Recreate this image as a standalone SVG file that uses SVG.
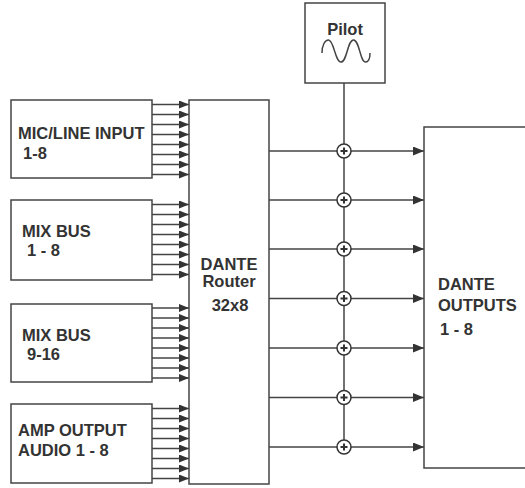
<svg xmlns="http://www.w3.org/2000/svg" width="525" height="488" viewBox="0 0 525 488">
<defs>
<style>
.box{fill:#fff;stroke:#444;stroke-width:1.5}
.ln{stroke:#444;stroke-width:1.5;fill:none}
.t{font-family:"Liberation Sans",Arial,sans-serif;font-weight:bold;font-size:16.5px;fill:#333}
.sum{fill:#fff;stroke:#333;stroke-width:1.5}
</style>
<marker id="ah" markerUnits="userSpaceOnUse" markerWidth="10" markerHeight="8" refX="10" refY="4" orient="auto">
<path d="M0,0 L10,4 L0,8 z" fill="#333"/>
</marker>
<marker id="ao" markerUnits="userSpaceOnUse" markerWidth="11" markerHeight="9" refX="11" refY="4.5" orient="auto">
<path d="M0,0 L11,4.5 L0,9 z" fill="#333"/>
</marker>
<g id="sumsym">
<circle r="7" class="sum"/>
<path d="M-3.5,0 H3.5 M0,-3.5 V3.5" stroke="#333" stroke-width="2"/>
</g>
</defs>
<rect width="525" height="488" fill="#fff"/>

<g id="connectors">
<g class="ln">
<line x1="152" y1="104.5" x2="189" y2="104.5" marker-end="url(#ah)"/>
<line x1="152" y1="114.5" x2="189" y2="114.5" marker-end="url(#ah)"/>
<line x1="152" y1="124.5" x2="189" y2="124.5" marker-end="url(#ah)"/>
<line x1="152" y1="134.5" x2="189" y2="134.5" marker-end="url(#ah)"/>
<line x1="152" y1="144.5" x2="189" y2="144.5" marker-end="url(#ah)"/>
<line x1="152" y1="154.5" x2="189" y2="154.5" marker-end="url(#ah)"/>
<line x1="152" y1="164.5" x2="189" y2="164.5" marker-end="url(#ah)"/>
<line x1="152" y1="174.5" x2="189" y2="174.5" marker-end="url(#ah)"/>

<line x1="152" y1="204.5" x2="189" y2="204.5" marker-end="url(#ah)"/>
<line x1="152" y1="214.5" x2="189" y2="214.5" marker-end="url(#ah)"/>
<line x1="152" y1="224.5" x2="189" y2="224.5" marker-end="url(#ah)"/>
<line x1="152" y1="234.5" x2="189" y2="234.5" marker-end="url(#ah)"/>
<line x1="152" y1="244.5" x2="189" y2="244.5" marker-end="url(#ah)"/>
<line x1="152" y1="254.5" x2="189" y2="254.5" marker-end="url(#ah)"/>
<line x1="152" y1="264.5" x2="189" y2="264.5" marker-end="url(#ah)"/>
<line x1="152" y1="274.5" x2="189" y2="274.5" marker-end="url(#ah)"/>

<line x1="152" y1="308" x2="189" y2="308" marker-end="url(#ah)"/>
<line x1="152" y1="318" x2="189" y2="318" marker-end="url(#ah)"/>
<line x1="152" y1="328" x2="189" y2="328" marker-end="url(#ah)"/>
<line x1="152" y1="338" x2="189" y2="338" marker-end="url(#ah)"/>
<line x1="152" y1="348" x2="189" y2="348" marker-end="url(#ah)"/>
<line x1="152" y1="358" x2="189" y2="358" marker-end="url(#ah)"/>
<line x1="152" y1="368" x2="189" y2="368" marker-end="url(#ah)"/>
<line x1="152" y1="378" x2="189" y2="378" marker-end="url(#ah)"/>

<line x1="152" y1="408.5" x2="189" y2="408.5" marker-end="url(#ah)"/>
<line x1="152" y1="418.5" x2="189" y2="418.5" marker-end="url(#ah)"/>
<line x1="152" y1="428.5" x2="189" y2="428.5" marker-end="url(#ah)"/>
<line x1="152" y1="438.5" x2="189" y2="438.5" marker-end="url(#ah)"/>
<line x1="152" y1="448.5" x2="189" y2="448.5" marker-end="url(#ah)"/>
<line x1="152" y1="458.5" x2="189" y2="458.5" marker-end="url(#ah)"/>
<line x1="152" y1="468.5" x2="189" y2="468.5" marker-end="url(#ah)"/>
<line x1="152" y1="478.5" x2="189" y2="478.5" marker-end="url(#ah)"/>

<line x1="269" y1="151" x2="424" y2="151" marker-end="url(#ao)"/>
<line x1="269" y1="200" x2="424" y2="200" marker-end="url(#ao)"/>
<line x1="269" y1="249" x2="424" y2="249" marker-end="url(#ao)"/>
<line x1="269" y1="298.5" x2="424" y2="298.5" marker-end="url(#ao)"/>
<line x1="269" y1="348" x2="424" y2="348" marker-end="url(#ao)"/>
<line x1="269" y1="397.5" x2="424" y2="397.5" marker-end="url(#ao)"/>
<line x1="269" y1="447" x2="424" y2="447" marker-end="url(#ao)"/>

<line x1="344" y1="83" x2="344" y2="447"/>
</g>
<use href="#sumsym" x="344" y="151"/>
<use href="#sumsym" x="344" y="200"/>
<use href="#sumsym" x="344" y="249"/>
<use href="#sumsym" x="344" y="298.5"/>
<use href="#sumsym" x="344" y="348"/>
<use href="#sumsym" x="344" y="397.5"/>
<use href="#sumsym" x="344" y="447"/>
</g>

<g id="mic">
<rect x="11" y="100" width="141" height="78" class="box"/>
<text class="t" x="18" y="139">MIC/LINE INPUT</text>
<text class="t" x="23" y="159">1-8</text>
</g>
<g id="mix1">
<rect x="11" y="200" width="141" height="80" class="box"/>
<text class="t" x="22" y="237">MIX BUS</text>
<text class="t" x="27" y="256">1 - 8</text>
</g>
<g id="mix2">
<rect x="11" y="304" width="141" height="78" class="box"/>
<text class="t" x="22" y="341">MIX BUS</text>
<text class="t" x="27" y="360">9-16</text>
</g>
<g id="amp">
<rect x="11" y="404" width="141" height="79" class="box"/>
<text class="t" x="18" y="436">AMP OUTPUT</text>
<text class="t" x="18" y="456">AUDIO 1 - 8</text>
</g>
<g id="router">
<rect x="189" y="100" width="80" height="384" class="box"/>
<text class="t" x="229" y="270" text-anchor="middle">DANTE</text>
<text class="t" x="229" y="287" text-anchor="middle">Router</text>
<text class="t" x="230" y="311" text-anchor="middle">32x8</text>
</g>
<g id="pilot">
<rect x="305" y="3" width="80" height="80" class="box"/>
<text class="t" x="345" y="35" text-anchor="middle">Pilot</text>
<path class="ln" d="M322,53 C322,45 325,40 328.5,40 C334,40 335,62 341,62 C347,62 347.5,40 353.5,40 C359.5,40 360,62 365.5,62 C368.5,62 370,58 370,53"/>
</g>
<g id="outputs">
<rect x="424" y="127" width="110" height="341" class="box"/>
<text class="t" x="438" y="290">DANTE</text>
<text class="t" x="438" y="311">OUTPUTS</text>
<text class="t" x="440" y="335">1 - 8</text>
</g>
</svg>
